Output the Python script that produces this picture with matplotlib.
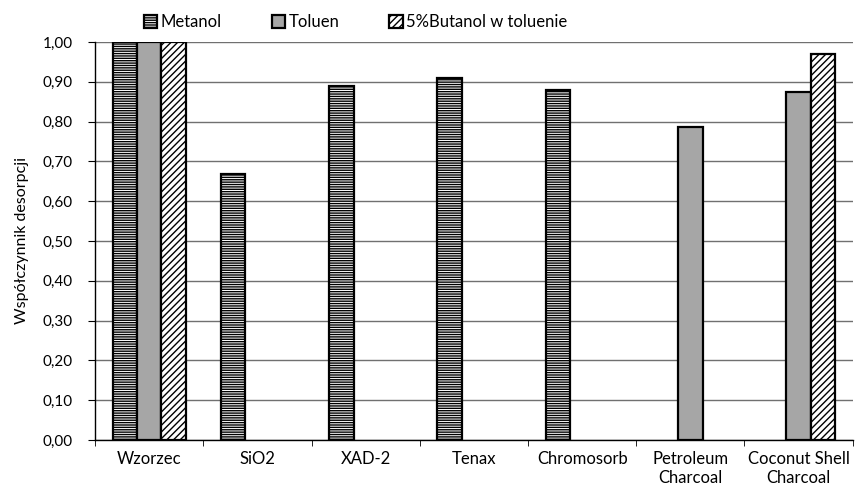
import matplotlib.pyplot as plt
import numpy as np
from matplotlib.ticker import MultipleLocator, FuncFormatter
from matplotlib import rcParams

rcParams.update({'font.family': ['Lato', 'DejaVu Sans'], 'font.size': 12, 'hatch.linewidth': 1.0})

categories = ["Wzorzec", "SiO2", "XAD-2", "Tenax", "Chromosorb",
              "Petroleum\nCharcoal", "Coconut Shell\nCharcoal"]
metanol = [1.00, 0.668, 0.889, 0.91, 0.88, np.nan, np.nan]
toluen = [1.00, np.nan, np.nan, np.nan, np.nan, 0.786, 0.874]
butanol = [1.00, np.nan, np.nan, np.nan, np.nan, np.nan, 0.97]

fig = plt.figure(figsize=(8.57, 4.92), dpi=100)
ax = fig.add_axes([0.111, 0.1057, 0.884, 0.809])

x = np.arange(len(categories)) + 0.5
w = 0.225

ax.set_axisbelow(True)
ax.grid(axis="y", color="#707070", linewidth=1.0)

ax.bar(x - w, metanol, w, color="white", edgecolor="black", linewidth=1.6,
       hatch="-------", label="Metanol", zorder=3)
ax.bar(x, toluen, w, color="#a6a6a6", edgecolor="black", linewidth=1.6,
       label="Toluen", zorder=3)
ax.bar(x + w, butanol, w, color="white", edgecolor="black", linewidth=1.6,
       hatch="/////", label="5%Butanol w toluenie", zorder=3)

ax.set_xlim(0, len(categories))
ax.set_ylim(0, 1.0)
ax.yaxis.set_major_locator(MultipleLocator(0.1))
ax.yaxis.set_major_formatter(FuncFormatter(lambda v, p: "{:.2f}".format(v).replace(".", ",")))
ax.set_xticks(x)
ax.set_xticklabels(categories, linespacing=1.25)
ax.set_xticks(np.arange(len(categories) + 1), minor=True)
ax.tick_params(axis="x", which="major", length=0, pad=8)
ax.tick_params(axis="x", which="minor", length=4, direction="out")
ax.tick_params(axis="y", length=5, direction="out", pad=11, labelsize=11)

for side in ["top", "right"]:
    ax.spines[side].set_visible(False)
ax.spines["left"].set_linewidth(1.0)
ax.spines["bottom"].set_linewidth(1.0)

ax.set_ylabel("Współczynnik desorpcji", labelpad=10, fontsize=11.5)

fig.legend(loc="center", bbox_to_anchor=(0.415, 0.955), ncol=3, frameon=False,
           handlelength=0.8, handleheight=0.8, handletextpad=0.2, columnspacing=3.0,
           fontsize=12)

fig.savefig("out.png", dpi=100)
